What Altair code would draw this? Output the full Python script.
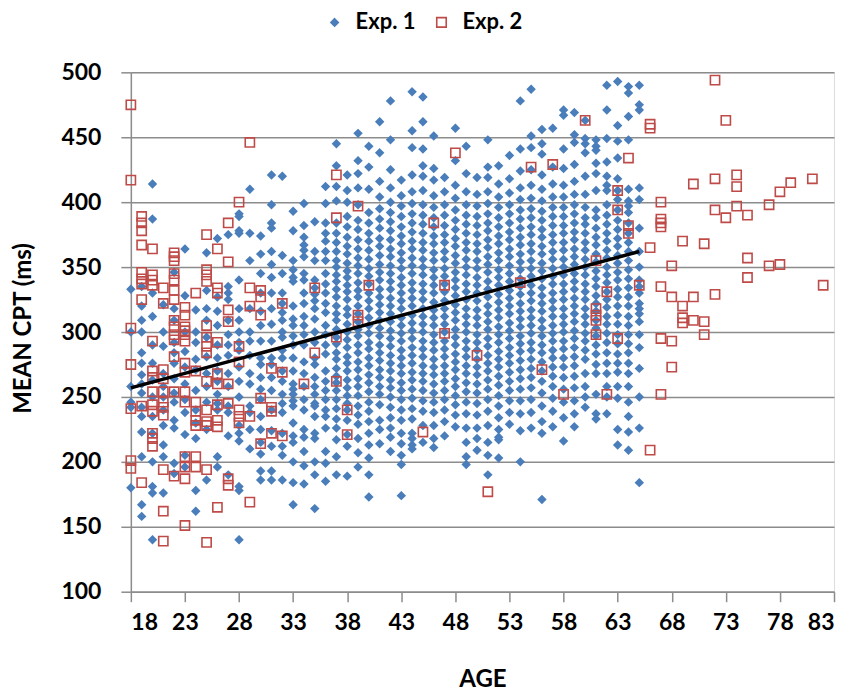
import altair as alt
import pandas as pd

# ---------------- Exp. 1 (blue diamonds): CPT values per age ----------------
e1_18 = [333, 300, 258, 246, 242, 180]
e1_19 = [335, 320, 309, 300, 284, 276, 267, 260, 253, 242, 235, 223, 204, 167, 158]
e1_20 = [414, 387, 330, 312, 290, 276, 263, 250, 235, 222, 200, 181, 176, 140]
e1_21 = [321, 300, 289, 268, 258, 250, 240, 228, 213, 204, 176]
e1_22 = [346, 318, 309, 292, 284, 276, 264, 253, 246, 232, 226, 199, 191]
e1_23 = [364, 328, 300, 285, 273, 260, 248, 238, 221, 205, 196]
e1_24 = [317, 300, 292, 279, 271, 255, 240, 230, 218, 178, 162]
e1_25 = [361, 332, 318, 309, 296, 281, 268, 258, 246, 225, 186]
e1_26 = [372, 327, 316, 305, 290, 280, 270, 262, 252, 245, 240, 204, 196]
e1_27 = [375, 335, 330, 325, 309, 298, 290, 282, 268, 258, 243, 238, 220, 190]
e1_28 = [391, 389, 378, 376, 340, 318, 309, 300, 292, 286, 273, 262, 250, 228, 222, 216, 181, 178, 140]
e1_29 = [410, 376, 355, 318, 300, 293, 282, 268, 260, 243, 238, 225, 210]
e1_30 = [374, 360, 345, 330, 316, 305, 293, 280, 275, 265, 256, 248, 235, 225, 215, 206, 193, 186]
e1_31 = [421, 398, 384, 380, 362, 352, 342, 330, 318, 306, 293, 280, 275, 265, 255, 240, 224, 212, 193, 186]
e1_32 = [420, 359, 345, 330, 322, 315, 309, 300, 296, 286, 280, 270, 262, 252, 245, 238, 222, 212, 205, 186]
e1_33 = [393, 378, 355, 348, 342, 339, 320, 310, 305, 297, 290, 280, 270, 260, 256, 252, 247, 243, 230, 220, 215, 200, 184, 167]
e1_34 = [399, 382, 373, 367, 363, 358, 345, 340, 330, 322, 312, 305, 298, 290, 277, 268, 258, 248, 240, 225, 219, 208, 197, 183]
e1_35 = [385, 362, 355, 340, 334, 329, 324, 318, 310, 300, 292, 280, 275, 265, 258, 252, 245, 243, 235, 222, 218, 200, 190, 164]
e1_36 = [412, 399, 384, 376, 370, 362, 355, 345, 337, 330, 322, 315, 305, 298, 290, 283, 270, 262, 255, 248, 240, 235, 226, 208, 199, 185]
e1_37 = [445, 428, 412, 401, 384, 376, 369, 362, 355, 350, 344, 339, 333, 327, 320, 314, 309, 302, 296, 291, 284, 279, 272, 266, 261, 255, 248, 241, 233, 226, 217, 204, 190]
e1_38 = [421, 409, 400, 389, 381, 373, 366, 360, 353, 347, 342, 336, 331, 325, 318, 313, 306, 300, 294, 288, 281, 276, 270, 263, 257, 251, 245, 240, 232, 221, 212, 189]
e1_39 = [453, 432, 422, 411, 398, 386, 379, 371, 364, 357, 351, 345, 338, 332, 327, 320, 314, 308, 302, 297, 290, 284, 277, 271, 264, 258, 251, 243, 236, 229, 218, 207, 196]
e1_40 = [443, 427, 410, 392, 384, 376, 370, 363, 356, 349, 343, 337, 330, 324, 318, 311, 305, 299, 292, 287, 280, 274, 267, 261, 254, 246, 239, 231, 222, 213, 203, 190, 173]
e1_41 = [462, 438, 416, 404, 395, 387, 380, 372, 366, 359, 352, 346, 340, 333, 327, 321, 315, 309, 303, 297, 290, 284, 278, 271, 265, 258, 252, 244, 232, 225, 214]
e1_42 = [478, 448, 425, 411, 400, 392, 385, 378, 371, 364, 358, 351, 345, 339, 333, 326, 320, 314, 308, 301, 295, 289, 282, 276, 270, 263, 257, 250, 242, 234, 226, 219, 208]
e1_43 = [417, 405, 397, 389, 381, 374, 368, 361, 355, 349, 342, 336, 330, 324, 318, 311, 305, 299, 293, 286, 280, 274, 268, 261, 255, 248, 240, 232, 222, 214, 205, 198, 174]
e1_44 = [485, 455, 442, 421, 408, 399, 391, 384, 377, 370, 364, 357, 351, 345, 338, 332, 326, 320, 313, 307, 301, 295, 288, 282, 276, 269, 263, 256, 249, 241, 233, 222, 218, 213, 210]
e1_45 = [481, 462, 441, 428, 420, 409, 398, 390, 383, 376, 369, 363, 356, 350, 344, 337, 331, 325, 318, 312, 306, 300, 293, 287, 281, 274, 268, 262, 255, 247, 239, 228, 215]
e1_46 = [451, 426, 417, 405, 396, 388, 381, 374, 368, 361, 355, 348, 342, 336, 330, 323, 317, 311, 305, 298, 292, 286, 279, 273, 267, 260, 253, 246, 238, 228, 218, 211]
e1_47 = [419, 408, 398, 390, 382, 375, 369, 362, 356, 349, 343, 337, 331, 324, 318, 312, 306, 300, 293, 287, 281, 274, 268, 262, 255, 248, 240, 231, 220]
e1_48 = [457, 432, 413, 403, 394, 386, 379, 372, 366, 359, 353, 346, 340, 334, 328, 321, 315, 309, 302, 296, 290, 283, 277, 271, 264, 258, 251, 244, 236, 227]
e1_49 = [443, 422, 408, 398, 390, 383, 376, 369, 363, 356, 350, 344, 337, 331, 325, 318, 312, 306, 300, 293, 287, 281, 274, 268, 261, 254, 246, 237, 226, 215, 204, 198]
e1_50 = [419, 406, 397, 389, 382, 375, 368, 362, 355, 349, 342, 336, 330, 324, 317, 311, 305, 298, 292, 286, 279, 273, 267, 260, 253, 245, 236, 226, 218, 209]
e1_51 = [448, 427, 419, 408, 399, 391, 384, 378, 371, 365, 358, 352, 346, 339, 333, 327, 320, 314, 308, 302, 295, 289, 282, 276, 270, 263, 256, 248, 239, 228, 215, 205, 190]
e1_52 = [428, 414, 404, 396, 388, 381, 374, 368, 361, 355, 348, 342, 336, 329, 323, 317, 311, 304, 298, 292, 285, 279, 273, 266, 259, 251, 243, 234, 225, 219, 217, 203]
e1_53 = [436, 418, 407, 398, 391, 384, 377, 371, 364, 358, 351, 345, 339, 332, 326, 320, 314, 307, 301, 295, 288, 282, 276, 269, 262, 255, 247, 238, 229]
e1_54 = [478, 441, 424, 411, 402, 394, 387, 380, 373, 367, 360, 354, 348, 341, 335, 329, 322, 316, 310, 304, 297, 291, 285, 278, 271, 264, 256, 247, 237, 224, 200]
e1_55 = [487, 451, 442, 425, 413, 403, 395, 388, 381, 375, 368, 362, 355, 349, 343, 336, 330, 324, 317, 311, 305, 299, 292, 286, 279, 272, 265, 257, 248, 238, 226]
e1_56 = [456, 445, 437, 421, 410, 401, 393, 386, 379, 373, 366, 360, 353, 347, 341, 334, 328, 322, 316, 309, 303, 297, 290, 284, 277, 270, 262, 253, 243, 231, 222, 171]
e1_57 = [457, 427, 414, 404, 396, 389, 382, 375, 369, 362, 356, 349, 343, 337, 330, 324, 318, 312, 305, 299, 293, 286, 280, 273, 266, 258, 249, 239, 227]
e1_58 = [471, 467, 441, 426, 413, 404, 396, 389, 382, 376, 369, 363, 356, 350, 344, 337, 331, 325, 318, 312, 306, 300, 293, 287, 280, 273, 265, 256, 246, 234, 216]
e1_59 = [469, 452, 446, 429, 416, 406, 398, 391, 384, 377, 371, 364, 358, 352, 345, 339, 333, 326, 320, 314, 308, 301, 295, 288, 281, 274, 266, 257, 247, 237, 227]
e1_60 = [463, 449, 445, 438, 420, 406, 396, 388, 383, 376, 369, 363, 356, 350, 344, 337, 331, 325, 318, 312, 306, 299, 293, 286, 279, 268, 258, 250, 242]
e1_61 = [448, 443, 440, 430, 422, 409, 394, 388, 380, 373, 367, 360, 354, 347, 341, 335, 328, 322, 316, 309, 303, 297, 290, 283, 275, 268, 252, 237, 233]
e1_62 = [490, 471, 449, 431, 420, 413, 409, 398, 390, 383, 376, 370, 363, 357, 350, 344, 338, 331, 325, 319, 312, 306, 299, 292, 284, 276, 268, 258, 250, 237]
e1_63 = [493, 459, 447, 434, 418, 409, 402, 394, 386, 379, 372, 366, 359, 353, 346, 340, 333, 327, 320, 313, 306, 298, 291, 283, 276, 269, 258, 249, 225, 213]
e1_64 = [489, 484, 466, 448, 410, 401, 397, 392, 384, 376, 369, 362, 355, 348, 341, 334, 327, 320, 312, 305, 298, 291, 284, 276, 268, 258, 246, 235, 223, 209]
e1_65 = [490, 475, 471, 411, 402, 380, 362, 350, 340, 335, 330, 322, 318, 314, 308, 298, 288, 272, 250, 226, 184]

exp1 = [(18, e1_18), (19, e1_19), (20, e1_20), (21, e1_21), (22, e1_22), (23, e1_23),
        (24, e1_24), (25, e1_25), (26, e1_26), (27, e1_27), (28, e1_28), (29, e1_29),
        (30, e1_30), (31, e1_31), (32, e1_32), (33, e1_33), (34, e1_34), (35, e1_35),
        (36, e1_36), (37, e1_37), (38, e1_38), (39, e1_39), (40, e1_40), (41, e1_41),
        (42, e1_42), (43, e1_43), (44, e1_44), (45, e1_45), (46, e1_46), (47, e1_47),
        (48, e1_48), (49, e1_49), (50, e1_50), (51, e1_51), (52, e1_52), (53, e1_53),
        (54, e1_54), (55, e1_55), (56, e1_56), (57, e1_57), (58, e1_58), (59, e1_59),
        (60, e1_60), (61, e1_61), (62, e1_62), (63, e1_63), (64, e1_64), (65, e1_65)]

# ---------------- Exp. 2 (red hollow squares): CPT values per age ----------------
e2_18 = [475, 417, 303, 275, 241, 201, 195]
e2_19 = [389, 384, 378, 367, 346, 341, 337, 325, 243, 184]
e2_20 = [364, 344, 340, 336, 293, 270, 265, 254, 244, 239, 222, 218, 212]
e2_21 = [334, 322, 271, 264, 254, 246, 242, 236, 194, 162, 139]
e2_22 = [361, 358, 355, 345, 340, 332, 325, 309, 304, 298, 294, 281, 254, 189]
e2_23 = [319, 313, 304, 301, 298, 293, 276, 269, 254, 246, 204, 196, 187, 151]
e2_24 = [330, 270, 246, 239, 232, 228, 204, 196]
e2_25 = [375, 348, 344, 339, 305, 296, 289, 284, 262, 240, 231, 228, 194, 138]
e2_26 = [364, 334, 330, 292, 268, 260, 244, 232, 227, 165]
e2_27 = [384, 354, 317, 308, 260, 245, 187, 182]
e2_28 = [400, 289, 277, 240, 235, 230]
e2_29 = [446, 334, 320, 235, 169]
e2_30 = [332, 327, 313, 249, 214]
e2_31 = [272, 242, 239, 222]
e2_32 = [322, 269, 220]
e2_34 = [260]
e2_35 = [334, 284]
e2_37 = [421, 388, 296, 262]
e2_38 = [240, 221]
e2_39 = [397, 313, 308]
e2_40 = [336]
e2_45 = [223]
e2_46 = [384]
e2_47 = [336, 299]
e2_48 = [438]
e2_50 = [282]
e2_51 = [177]
e2_54 = [338]
e2_55 = [427]
e2_56 = [271]
e2_57 = [429]
e2_58 = [252]
e2_60 = [463]
e2_61 = [355, 318, 313, 309, 298]
e2_62 = [331, 252]
e2_63 = [409, 394, 295]
e2_64 = [434, 382, 376]
e2_65 = [336]
e2_66 = [460, 457, 365, 209]
e2_67 = [400, 387, 384, 381, 335, 295, 252]
e2_68 = [351, 327, 293, 273]
e2_69 = [370, 320, 311, 307]
e2_70 = [414, 327, 309]
e2_71 = [368, 308, 298]
e2_72 = [494, 418, 394, 329]
e2_73 = [463, 388]
e2_74 = [421, 412, 397]
e2_75 = [390, 357, 342]
e2_77 = [398, 351]
e2_78 = [408, 352]
e2_79 = [415]
e2_81 = [418]
e2_82 = [336]

exp2 = [(18, e2_18), (19, e2_19), (20, e2_20), (21, e2_21), (22, e2_22), (23, e2_23),
        (24, e2_24), (25, e2_25), (26, e2_26), (27, e2_27), (28, e2_28), (29, e2_29),
        (30, e2_30), (31, e2_31), (32, e2_32), (34, e2_34), (35, e2_35), (37, e2_37),
        (38, e2_38), (39, e2_39), (40, e2_40), (45, e2_45), (46, e2_46), (47, e2_47),
        (48, e2_48), (50, e2_50), (51, e2_51), (54, e2_54), (55, e2_55), (56, e2_56),
        (57, e2_57), (58, e2_58), (60, e2_60), (61, e2_61), (62, e2_62), (63, e2_63),
        (64, e2_64), (65, e2_65), (66, e2_66), (67, e2_67), (68, e2_68), (69, e2_69),
        (70, e2_70), (71, e2_71), (72, e2_72), (73, e2_73), (74, e2_74), (75, e2_75),
        (77, e2_77), (78, e2_78), (79, e2_79), (81, e2_81), (82, e2_82)]

# Trend line (Exp. 1) end points
trend_age = [18, 65]
trend_cpt = [257, 362]

series_names = ["Exp. 1", "Exp. 2"]
x_ticks = [18, 23, 28, 33, 38, 43, 48, 53, 58, 63, 68, 73, 78, 83]
y_ticks = [100, 150, 200, 250, 300, 350, 400, 450, 500]

BLUE = "#4A7EBB"
RED = "#BE4B48"
GRAY = "#8C8C8C"
FONT = "Lato"

rows = []
for age, vals in exp1:
    for v in vals:
        rows.append({"age": age, "cpt": v, "series": "Exp. 1"})
for age, vals in exp2:
    for v in vals:
        rows.append({"age": age, "cpt": v, "series": "Exp. 2"})
df = pd.DataFrame(rows)
trend_df = pd.DataFrame({"age": trend_age, "cpt": trend_cpt})

x_scale = alt.Scale(domain=[18, 83], nice=False, zero=False)
y_scale = alt.Scale(domain=[100, 500], nice=False, zero=False)

legend = alt.Legend(
    title=None, orient="none", direction="horizontal",
    legendX=193, legendY=-61,
    labelFont=FONT, labelFontSize=22, labelFontWeight="bold", labelColor="black",
    symbolSize=90, symbolStrokeWidth=1.6, labelOffset=10, columnPadding=15,
)

x_axis = alt.Axis(
    values=x_ticks, grid=False, tickSize=10, tickWidth=1.5, tickColor=GRAY,
    domainColor=GRAY, domainWidth=1.5, labelFont=FONT, labelFontSize=23,
    labelFontWeight="bold", labelColor="black", labelPadding=10,
    title="AGE", titleFont=FONT, titleFontSize=24, titleFontWeight="bold",
    titleColor="black", titleY=88, titleBaseline="middle",
)
y_axis = alt.Axis(
    values=y_ticks, grid=True, gridColor=GRAY, gridWidth=1.5,
    tickSize=10, tickWidth=1.5, tickColor=GRAY, domainColor=GRAY, domainWidth=1.5,
    labelFont=FONT, labelFontSize=23, labelFontWeight="bold", labelColor="black",
    labelPadding=20, title="MEAN CPT (ms)", titleFont=FONT, titleFontSize=24,
    titleFontWeight="bold", titleColor="black", titleX=-107, titleY=256,
    titleBaseline="middle",
)

diamond = "M0,-0.78L0.78,0L0,0.78L-0.78,0Z"
square = "M-1,-1L1,-1L1,1L-1,1Z"

points = alt.Chart(df).mark_point(filled=False, size=85, strokeWidth=1.6, opacity=1).encode(
    x=alt.X("age:Q", scale=x_scale, axis=x_axis),
    y=alt.Y("cpt:Q", scale=y_scale, axis=y_axis),
    color=alt.Color("series:N", scale=alt.Scale(domain=series_names, range=[BLUE, RED]), legend=legend),
    shape=alt.Shape("series:N", scale=alt.Scale(domain=series_names, range=[diamond, square]), legend=legend),
    fill=alt.Fill("series:N", scale=alt.Scale(domain=series_names, range=[BLUE, "transparent"]), legend=legend),
)

trend = alt.Chart(trend_df).mark_line(color="black", strokeWidth=3.5).encode(
    x=alt.X("age:Q", scale=x_scale),
    y=alt.Y("cpt:Q", scale=y_scale),
)

chart = alt.layer(points, trend).properties(
    width=704, height=520,
    autosize=alt.AutoSizeParams(type="none"),
    padding={"left": 123, "top": 64, "right": 8, "bottom": 100},
).configure_view(stroke=None).configure(background="white")

chart.save("out.html", embed_options={"renderer": "svg", "actions": False})
